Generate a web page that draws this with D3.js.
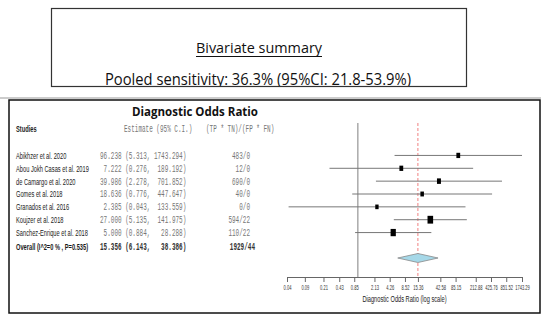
<!DOCTYPE html>
<html>
<head>
<meta charset="utf-8">
<script src="https://cdn.jsdelivr.net/npm/d3@7"></script>
<style>
    body { margin: 0; background: #fff; }
    svg { display: block; }
</style>
</head>
<body>
<svg id="chart" width="550" height="322"></svg>
<script>

// study rows
var studies = ["Abikhzer et al. 2020", "Abou Jokh Casas et al. 2019", "de Camargo et al. 2020",
               "Gomes et al. 2018", "Granados et al. 2016", "Koujzer et al. 2018", "Sanchez-Enrique et al. 2018"];
var estimates = [96.238, 7.222, 39.986, 18.636, 2.385, 27.000, 5.000];
var ciLow = [5.313, 0.276, 2.278, 0.776, 0.043, 5.135, 0.884];
var ciHigh = [1743.294, 189.192, 701.852, 447.647, 133.559, 141.975, 28.288];
var ratios = ["483/0", "12/0", "690/0", "40/0", "0/0", "594/22", "110/22"];
var weights = [11, 11, 12, 9.5, 8.5, 24, 21];   // rough, from box sizes

var pooledLabel = "Overall (I^2=0 % , P=0.535)";
var pooled = [15.356, 6.143, 38.386];
var pooledRatio = "1929/44";

var tickValues = [0.04, 0.09, 0.21, 0.43, 0.85, 2.13, 4.26, 8.52, 15.36, 42.58, 85.15, 212.88, 425.76, 851.52, 1743.29];


var draw = {

    svg: d3.select("#chart"),

    // the forest plot picture is squeezed sideways
    sx: 0.6,

    index: function () {
        draw.summaryBox();
        draw.forestBox();
    },

    squeezed: function (g, x, y, txt, anchor, sx) {
        return g.append("text")
            .attr("transform", "translate(" + x + "," + y + ") scale(" + (sx || draw.sx) + ",1)")
            .attr("text-anchor", anchor || "start")
            .text(txt);
    },

    pad: function (s, n) {
        while (s.length < n) { s = " " + s; }
        return s;
    },

    ciText: function (e, lo, hi) {
        return draw.pad(e.toFixed(3), 6) + " (" + lo.toFixed(3) + ", " + draw.pad(hi.toFixed(3), 8) + ")";
    },

    summaryBox: function () {
        var svg = draw.svg;

        svg.append("clipPath").attr("id", "topclip")
            .append("rect").attr("x", 51).attr("y", 8).attr("width", 415).attr("height", 78);

        svg.append("rect")
            .attr("x", 51.5).attr("y", 8.5).attr("width", 415).attr("height", 78)
            .attr("fill", "none").attr("stroke", "#333").attr("stroke-width", 1.2);

        svg.append("text")
            .attr("x", 259).attr("y", 53)
            .attr("text-anchor", "middle")
            .attr("font-family", "'Open Sans', sans-serif")
            .attr("font-size", 14)
            .attr("textLength", 126).attr("lengthAdjust", "spacingAndGlyphs")
            .attr("fill", "#111")
            .text("Bivariate summary");
        svg.append("line")
            .attr("x1", 196).attr("x2", 322).attr("y1", 56.5).attr("y2", 56.5)
            .attr("stroke", "#111").attr("stroke-width", 1);

        // bottom of this line is cut by the box edge in the original
        svg.append("text")
            .attr("clip-path", "url(#topclip)")
            .attr("x", 105).attr("y", 85)
            .attr("font-family", "'Open Sans', sans-serif")
            .attr("font-size", 16)
            .attr("textLength", 306).attr("lengthAdjust", "spacingAndGlyphs")
            .attr("fill", "#111")
            .text("Pooled sensitivity: 36.3% (95%CI: 21.8-53.9%)");

        // separator above the forest plot
        svg.append("line")
            .attr("x1", 0).attr("x2", 541).attr("y1", 98).attr("y2", 98)
            .attr("stroke", "#bbb").attr("stroke-width", 1.5);
    },

    forestBox: function () {
        var svg = draw.svg;

        svg.append("rect")
            .attr("x", 9).attr("y", 100).attr("width", 531).attr("height", 213)
            .attr("fill", "#fff").attr("stroke", "#111").attr("stroke-width", 1.5);

        svg.append("text")
            .attr("x", 195).attr("y", 116)
            .attr("text-anchor", "middle")
            .attr("font-family", "'Open Sans', sans-serif")
            .attr("font-weight", "bold")
            .attr("font-size", 12.5)
            .attr("textLength", 126).attr("lengthAdjust", "spacingAndGlyphs")
            .attr("fill", "#111")
            .text("Diagnostic Odds Ratio");

        var x = d3.scaleLog().domain([0.04, 1743.29]).range([287, 522]);
        var y = d3.scaleBand().domain(studies).range([149, 239]);
        var size = d3.scaleSqrt().domain([0, 30]).range([0, 8.7]);

        var text = svg.append("g").attr("class", "table")
            .attr("font-size", 9.5);

        // header
        var head = text.append("g").attr("fill", "#222");
        draw.squeezed(head, 16, 132, "Studies").attr("font-family", "'Liberation Sans', Arial, sans-serif")
            .attr("font-weight", "bold");
        draw.squeezed(head, 124, 132, "Estimate (95% C.I.)").attr("font-family", "'Liberation Mono', monospace")
            .attr("fill", "#777").attr("font-size", 10);
        draw.squeezed(head, 206, 132, "(TP * TN)/(FP * FN)").attr("font-family", "'Liberation Mono', monospace")
            .attr("fill", "#777").attr("font-size", 10);

        // study rows
        studies.forEach(function (s, i) {
            var yy = y(s) + y.bandwidth() / 2 + 3.4;
            draw.squeezed(text, 16, yy, s)
                .attr("font-family", "'Liberation Sans', Arial, sans-serif").attr("fill", "#1a1a1a");
            draw.squeezed(text, 100, yy, draw.ciText(estimates[i], ciLow[i], ciHigh[i]))
                .attr("font-family", "'Liberation Mono', monospace").attr("font-size", 10)
                .attr("fill", "#777").style("white-space", "pre");
            draw.squeezed(text, 250, yy, ratios[i], "end")
                .attr("font-family", "'Liberation Mono', monospace").attr("font-size", 10)
                .attr("fill", "#777");
        });

        // overall row
        var oy = 250.4;
        draw.squeezed(text, 16, oy, pooledLabel)
            .attr("font-family", "'Liberation Sans', Arial, sans-serif").attr("font-weight", "bold").attr("fill", "#1a1a1a");
        draw.squeezed(text, 100, oy, draw.ciText(pooled[0], pooled[1], pooled[2]))
            .attr("font-family", "'Liberation Mono', monospace").attr("font-size", 10).attr("font-weight", "bold")
            .attr("fill", "#333").style("white-space", "pre");
        draw.squeezed(text, 255, oy, pooledRatio, "end")
            .attr("font-family", "'Liberation Mono', monospace").attr("font-size", 10).attr("font-weight", "bold")
            .attr("fill", "#333");

        // reference lines
        svg.append("line")
            .attr("x1", x(1)).attr("x2", x(1)).attr("y1", 123).attr("y2", 277)
            .attr("stroke", "#aaa").attr("stroke-width", 1.5);
        svg.append("line")
            .attr("x1", x(pooled[0])).attr("x2", x(pooled[0])).attr("y1", 123).attr("y2", 277)
            .attr("stroke", "#f08080").attr("stroke-width", 1).attr("stroke-dasharray", "3,2");

        var rows = svg.append("g").attr("class", "rows")
            .selectAll("g")
            .data(studies)
            .enter().append("g")
            .attr("transform", function (d) { return "translate(0," + (y(d) + y.bandwidth() / 2) + ")"; });

        rows.append("line")
            .attr("x1", function (d, i) { return x(ciLow[i]); })
            .attr("x2", function (d, i) { return x(ciHigh[i]); })
            .attr("stroke", "#777").attr("stroke-width", 1);

        rows.append("rect")
            .attr("x", function (d, i) { return x(estimates[i]) - size(weights[i]) * 0.36; })
            .attr("y", function (d, i) { return -size(weights[i]) / 2; })
            .attr("width", function (d, i) { return size(weights[i]) * 0.72; })
            .attr("height", function (d, i) { return size(weights[i]); })
            .attr("fill", "#000");

        // pooled diamond
        var dy = 258;
        svg.append("path")
            .attr("d", "M" + x(pooled[1]) + "," + dy +
                       "L" + x(pooled[0]) + "," + (dy - 4.5) +
                       "L" + x(pooled[2]) + "," + dy +
                       "L" + x(pooled[0]) + "," + (dy + 4.5) + "Z")
            .attr("fill", "#a6d8e8").attr("stroke", "#888").attr("stroke-width", 0.8);

        // x axis
        var axis = svg.append("g")
            .attr("class", "x_axis")
            .attr("transform", "translate(0,277)")
            .call(d3.axisBottom(x)
                .tickValues(tickValues)
                .tickFormat(d3.format(".2f"))
                .tickSize(5)
                .tickSizeOuter(0));
        axis.select(".domain").attr("stroke", "#666");
        axis.selectAll(".tick line").attr("stroke", "#666");
        axis.selectAll(".tick text")
            .attr("font-family", "'Liberation Sans', Arial, sans-serif")
            .attr("font-size", 7)
            .attr("fill", "#333")
            .attr("transform", "scale(0.58,1)");

        draw.squeezed(svg, x(Math.sqrt(0.04 * 1743.29)), 302, "Diagnostic Odds Ratio (log scale)", "middle", 0.63)
            .attr("font-family", "'Liberation Sans', Arial, sans-serif")
            .attr("font-size", 9).attr("fill", "#222");
    }
};

draw.index();
</script>
</body>
</html>
